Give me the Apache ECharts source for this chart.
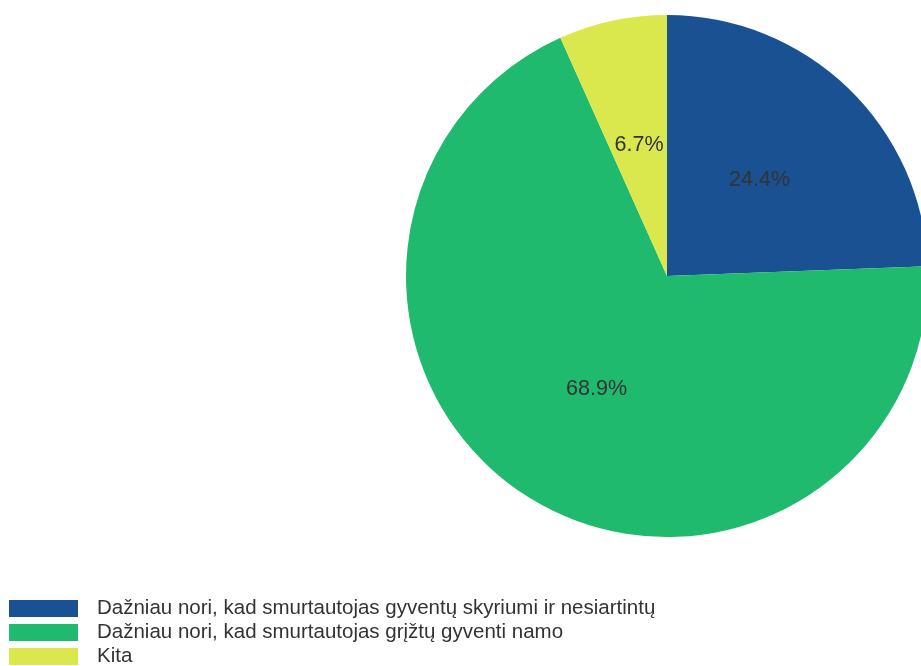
<!DOCTYPE html>
<html><head><meta charset="utf-8">
<script src="https://cdn.jsdelivr.net/npm/echarts@6/dist/echarts.min.js"></script>
<style>html,body{margin:0;padding:0;background:#fff}#c{width:921px;height:666px}</style>
</head><body><div id="c"></div>
<script>
var categories = ["Dažniau nori, kad smurtautojas gyventų skyriumi ir nesiartintų", "Dažniau nori, kad smurtautojas grįžtų gyventi namo", "Kita"];
var values = [24.4, 68.9, 6.7];
var colors = ["#1a5192", "#1fba6e", "#dbe84d"];
var chart = echarts.init(document.getElementById('c'));
chart.setOption({
  animation: false,
  color: colors,
  legend: {
    orient: 'vertical', left: 9, top: 598, height: 120, padding: 0,
    itemWidth: 69, itemHeight: 17, itemGap: 3,
    icon: 'rect',
    textStyle: { fontFamily: 'Liberation Sans', fontSize: 20.5, color: '#333', padding: [0, 0, 0, 14] },
    data: categories
  },
  series: [{
    type: 'pie', center: [667, 276], radius: 261, startAngle: 90, clockwise: true,
    label: { position: 'inner', formatter: '{d}%', fontFamily: 'Liberation Sans', fontSize: 21.5, color: '#333' },
    labelLine: { show: false },
    itemStyle: { borderWidth: 0 },
    emphasis: { disabled: true },
    data: categories.map(function (c, i) { return { name: c, value: values[i] }; })
  }]
});
</script></body></html>
